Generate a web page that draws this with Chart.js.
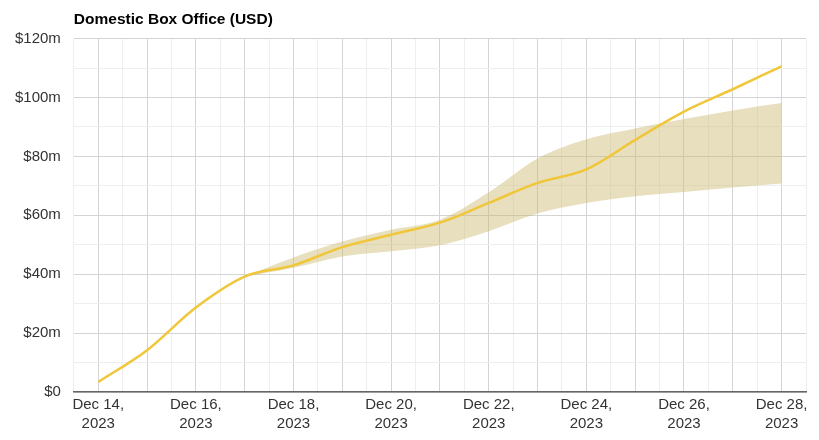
<!DOCTYPE html>
<html lang="en">

<head>
    <meta charset="UTF-8">
    <title>Domestic Box Office</title>
    <style>
        body {
            margin: 0;
            background: #fff;
        }
    </style>
</head>

<body>
    <canvas id="chart" width="819" height="440"></canvas>
    <script src="https://cdn.jsdelivr.net/npm/chart.js"></script>
    <script>
        // day index 0 = Dec 14, 2023
        const days = ["Dec 14", "Dec 15", "Dec 16", "Dec 17", "Dec 18", "Dec 19", "Dec 20", "Dec 21",
            "Dec 22", "Dec 23", "Dec 24", "Dec 25", "Dec 26", "Dec 27", "Dec 28"];
        const actual = [3.4, 14.2, 28.7, 39.2, 43.0, 49.2, 53.4, 57.5, 64.2, 71.0, 75.6, 85.6, 95.2, 102.8, 110.6];
        // forecast band, starts at Dec 17
        const bandStart = 3;
        const bandUpper = [39.2, 45.7, 51.1, 55.1, 58.5, 67.8, 79.3, 85.8, 89.5, 92.7, 95.6, 98.1];
        const bandLower = [39.2, 42.2, 46.0, 47.8, 49.8, 54.6, 60.6, 64.2, 66.5, 67.9, 69.4, 70.8];
        const yTicks = [0, 20, 40, 60, 80, 100, 120];

        const toPoints = (vals, start) => vals.map((v, i) => ({ x: start + i, y: v }));

        const ctx = document.getElementById("chart");

        new Chart(ctx, {
            type: "line",
            data: {
                datasets: [{
                    label: "Upper",
                    data: toPoints(bandUpper, bandStart),
                    borderWidth: 0,
                    pointRadius: 0,
                    fill: "+1",
                    backgroundColor: "rgba(205, 185, 110, 0.45)",
                    cubicInterpolationMode: "monotone",
                    order: 2
                }, {
                    label: "Lower",
                    data: toPoints(bandLower, bandStart),
                    borderWidth: 0,
                    pointRadius: 0,
                    fill: false,
                    cubicInterpolationMode: "monotone",
                    order: 2
                }, {
                    label: "Domestic",
                    data: toPoints(actual, 0),
                    borderColor: "#f0c63a",
                    borderWidth: 2.5,
                    pointRadius: 0,
                    fill: false,
                    cubicInterpolationMode: "monotone",
                    order: 1
                }]
            },
            options: {
                responsive: false,
                animation: false,
                layout: { padding: { left: 2, right: 13, top: 6, bottom: 3 } },
                plugins: {
                    legend: { display: false },
                    tooltip: { enabled: false },
                    title: {
                        display: true,
                        text: "Domestic Box Office (USD)",
                        align: "start",
                        fullSize: false,
                        color: "#000",
                        font: { family: "Liberation Sans", size: 15.5, weight: "bold" },
                        padding: { top: 4, bottom: 10 }
                    }
                },
                scales: {
                    x: {
                        type: "linear",
                        min: -0.5,
                        max: 14.5,
                        afterBuildTicks: (axis) => {
                            const t = [];
                            for (let v = -0.5; v <= 14.5; v += 0.5) t.push({ value: v });
                            axis.ticks = t;
                        },
                        ticks: {
                            autoSkip: false,
                            maxRotation: 0,
                            padding: 3,
                            color: "#333",
                            font: { family: "Liberation Sans", size: 15, lineHeight: 1.3 },
                            callback: (v) => (Number.isInteger(v) && v % 2 === 0) ? [days[v] + ",", "2023"] : ""
                        },
                        grid: {
                            drawTicks: false,
                            color: (c) => Number.isInteger(c.tick.value) ? "#d4d4d4" : "#eeeeee"
                        },
                        border: { color: "#666", width: 1.5 }
                    },
                    y: {
                        min: 0,
                        max: 120,
                        afterBuildTicks: (axis) => {
                            const t = [];
                            for (let v = 0; v <= 120; v += 10) t.push({ value: v });
                            axis.ticks = t;
                        },
                        ticks: {
                            autoSkip: false,
                            padding: 13,
                            color: "#333",
                            font: { family: "Liberation Sans", size: 15 },
                            callback: (v) => yTicks.includes(v) ? (v === 0 ? "$0" : "$" + v + "m") : ""
                        },
                        grid: {
                            drawTicks: false,
                            color: (c) => c.tick.value % 20 === 0 ? "#d4d4d4" : "#eeeeee"
                        },
                        border: { display: false }
                    }
                }
            }
        });
    </script>
</body>

</html>
